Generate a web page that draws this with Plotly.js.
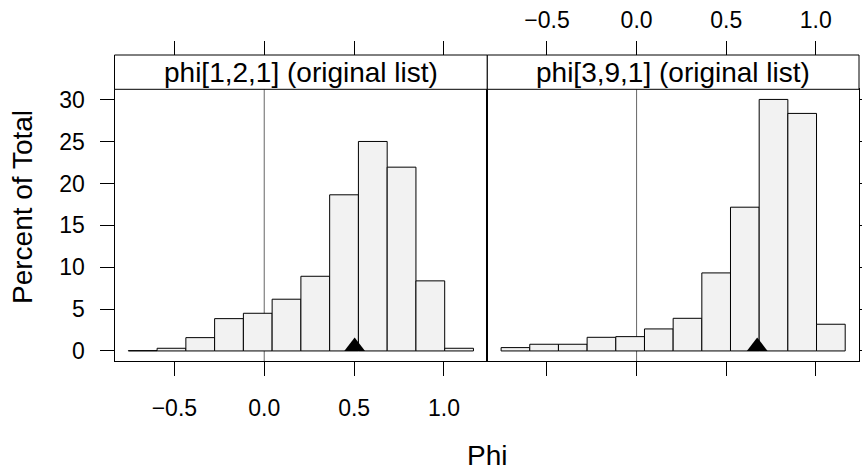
<!DOCTYPE html>
<html>
<head>
<meta charset="utf-8">
<script src="https://cdn.plot.ly/plotly-3.0.1.min.js"></script>
<style>html,body{margin:0;padding:0;background:#fff;}#chart{width:862px;height:475px;}</style>
</head>
<body>
<div id="chart"></div>
<script>
// ---- data ----
const binCenters = [-0.676, -0.516, -0.356, -0.196, -0.036, 0.124, 0.284, 0.444, 0.604, 0.764, 0.924, 1.084];
const binWidth = 0.16;
const pct_phi121 = [0.04, 0.32, 1.59, 3.86, 4.50, 6.18, 8.92, 18.65, 25.02, 21.95, 8.37, 0.32];
const pct_phi391 = [0.40, 0.80, 0.80, 1.63, 1.71, 2.63, 3.90, 9.32, 17.17, 30.04, 28.37, 3.19];
const panelTitles = ["phi[1,2,1] (original list)", "phi[3,9,1] (original list)"];
const estimates = [0.503, 0.673];
const xTicks = [-0.5, 0.0, 0.5, 1.0];
const yTicks = [0, 5, 10, 15, 20, 25, 30];
const xRange = [-0.833, 1.241];
const yRange = [-1.2, 31.25];

// ---- layout geometry ----
const W = 862, H = 475;
const px = v => v / W, py = v => (H - v) / H;
const p1 = [px(114.5), px(487.3)], p2 = [px(487.3), px(859)];
const yDom = [py(361), py(89.3)];
const stripTop = py(55);
const FONT = "Liberation Sans, Arial, Helvetica, sans-serif";
const tickFont = {family: FONT, size: 23, color: "#000"};
const labelFont = {family: FONT, size: 28, color: "#000"};

// marker: triangle base sits on y=0
const triSize = 18;
const pxPerUnit = (361 - 89.3) / (yRange[1] - yRange[0]);
const triY = (triSize / 4) / pxPerUnit;

const barStyle = {color: "#f2f2f2", line: {color: "#000", width: 1}};
const traces = [
  {type: "bar", x: binCenters, y: pct_phi121, width: binWidth, marker: barStyle, xaxis: "x", yaxis: "y", hoverinfo: "x+y"},
  {type: "bar", x: binCenters, y: pct_phi391, width: binWidth, marker: barStyle, xaxis: "x2", yaxis: "y2", hoverinfo: "x+y"},
  {type: "scatter", mode: "markers", x: [estimates[0]], y: [triY], marker: {symbol: "triangle-up", size: triSize, color: "#000"}, xaxis: "x", yaxis: "y"},
  {type: "scatter", mode: "markers", x: [estimates[1]], y: [triY], marker: {symbol: "triangle-up", size: triSize, color: "#000"}, xaxis: "x2", yaxis: "y2"},
  {type: "scatter", mode: "markers", x: [0], y: [0], marker: {opacity: 0}, xaxis: "x3", yaxis: "y", hoverinfo: "skip"},
  {type: "scatter", mode: "markers", x: [0], y: [0], marker: {opacity: 0}, xaxis: "x4", yaxis: "y2", hoverinfo: "skip"}
];

const baseX = {
  range: xRange, tickvals: xTicks, tickformat: ".1f", ticks: "outside", ticklen: 14,
  tickcolor: "#000", tickwidth: 1, showgrid: false, zeroline: false, tickfont: tickFont,
  showline: true, linecolor: "#000", linewidth: 1, mirror: true, fixedrange: true
};
const baseY = {
  range: yRange, domain: yDom, tickvals: yTicks, ticks: "outside", ticklen: 14,
  tickcolor: "#000", tickwidth: 1, showgrid: false, zeroline: false, tickfont: tickFont,
  showline: true, linecolor: "#000", linewidth: 1, mirror: true, fixedrange: true
};

const shapes = [];
const annotations = [];
[p1, p2].forEach((dom, i) => {
  shapes.push({type: "rect", xref: "paper", yref: "paper", x0: dom[0], x1: dom[1], y0: yDom[1], y1: stripTop,
    line: {color: "#000", width: 1}, fillcolor: "#fff", layer: "above"});
  annotations.push({xref: "paper", yref: "paper", x: (dom[0] + dom[1]) / 2, y: (yDom[1] + stripTop) / 2,
    text: panelTitles[i], showarrow: false, xanchor: "center", yanchor: "middle", font: labelFont});
});
// reference lines at 0
shapes.push({type: "line", xref: "x", yref: "y domain", x0: 0, x1: 0, y0: 0, y1: 1, line: {color: "#666", width: 1}, layer: "below"});
shapes.push({type: "line", xref: "x2", yref: "y2 domain", x0: 0, x1: 0, y0: 0, y1: 1, line: {color: "#666", width: 1}, layer: "below"});

annotations.push({xref: "paper", yref: "paper", x: px(487), y: py(455), text: "Phi", showarrow: false,
  xanchor: "center", yanchor: "middle", font: labelFont});
annotations.push({xref: "paper", yref: "paper", x: px(22), y: py(207), text: "Percent of Total", showarrow: false,
  textangle: -90, xanchor: "center", yanchor: "middle", font: labelFont});

const layout = {
  width: W, height: H, margin: {l: 0, r: 0, t: 0, b: 0},
  paper_bgcolor: "#fff", plot_bgcolor: "rgba(0,0,0,0)", showlegend: false, bargap: 0,
  xaxis: Object.assign({}, baseX, {domain: p1, anchor: "y", side: "bottom", ticklabelstandoff: 12}),
  xaxis2: Object.assign({}, baseX, {domain: p2, anchor: "y2", side: "bottom", showticklabels: false}),
  xaxis3: Object.assign({}, baseX, {overlaying: "x", anchor: "free", position: stripTop, side: "top", showticklabels: false, showline: false, mirror: false}),
  xaxis4: Object.assign({}, baseX, {overlaying: "x2", anchor: "free", position: stripTop, side: "top", showticklabels: true, showline: false, mirror: false, ticklabelstandoff: 4}),
  yaxis: Object.assign({}, baseY, {anchor: "x", side: "left", ticklabelstandoff: 10}),
  yaxis2: Object.assign({}, baseY, {anchor: "x2", side: "right", showticklabels: false}),
  shapes: shapes, annotations: annotations
};

Plotly.newPlot("chart", traces, layout, {displayModeBar: false, staticPlot: true});
</script>
</body>
</html>
